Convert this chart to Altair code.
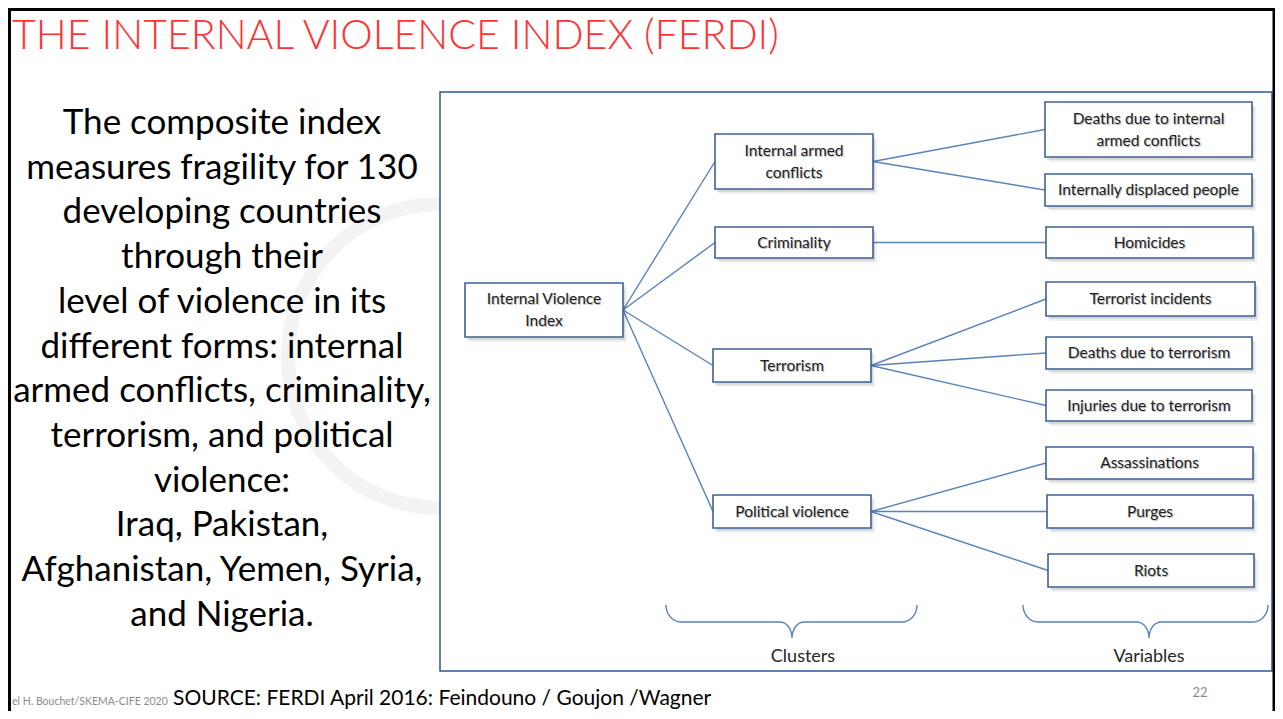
import math
import altair as alt
import pandas as pd

# ---------------- data ----------------
title_text = "THE INTERNAL VIOLENCE INDEX (FERDI)"
body_lines = [
    "The composite index",
    "measures fragility for 130",
    "developing countries",
    "through their",
    "level of violence in its",
    "different forms: internal",
    "armed conflicts, criminality,",
    "terrorism, and political",
    "violence:",
    "Iraq, Pakistan,",
    "Afghanistan, Yemen, Syria,",
    "and Nigeria.",
]
source_text = "SOURCE: FERDI April 2016: Feindouno / Goujon /Wagner"
author_text = "el H. Bouchet/SKEMA-CIFE 2020"
page_number = "22"

node_ids = ["ivi", "iac", "crim", "terr", "pol",
            "v_diac", "v_idp", "v_hom", "v_ti", "v_dt", "v_it",
            "v_ass", "v_pur", "v_riot"]
node_labels = ["Internal  Violence\nIndex", "Internal armed\nconflicts", "Criminality",
               "Terrorism", "Political violence",
               "Deaths due to internal\narmed conflicts", "Internally displaced people",
               "Homicides", "Terrorist incidents", "Deaths due to terrorism",
               "Injuries due to terrorism", "Assassinations", "Purges", "Riots"]
node_left = [465, 715, 715, 713, 713, 1045, 1045, 1046, 1046, 1046, 1046, 1046, 1047, 1048]
node_right = [623, 873, 873, 871, 871, 1252, 1252, 1253, 1255, 1252, 1252, 1253, 1253, 1254]
node_top = [283, 134, 227, 349, 495, 102, 174, 227, 282, 337, 390, 447, 495, 554]
node_bottom = [337, 189, 258, 382, 528, 157, 206, 258, 316, 369, 421, 479, 528, 587]

edge_parent = ["ivi", "ivi", "ivi", "ivi", "iac", "iac", "crim",
               "terr", "terr", "terr", "pol", "pol", "pol"]
edge_child = ["iac", "crim", "terr", "pol", "v_diac", "v_idp", "v_hom",
              "v_ti", "v_dt", "v_it", "v_ass", "v_pur", "v_riot"]

brace_labels = ["Clusters", "Variables"]
brace_left = [666, 1023]
brace_right = [917, 1268]
brace_tip = [792, 1149]
brace_label_x = [803, 1149]

# ---------------- layout helpers ----------------
W, H = 1267, 703
X0, Y0 = 8, 8
xs = alt.Scale(domain=[X0, X0 + W], nice=False, zero=False)
ys = alt.Scale(domain=[Y0 + H, Y0], nice=False, zero=False)


def X(f="x"):
    return alt.X(f"{f}:Q", scale=xs, axis=None)


def Y(f="y"):
    return alt.Y(f"{f}:Q", scale=ys, axis=None)


FONT = "Lato"
BOX_STROKE = "#3F6094"
LINE_COLOR = "#5A82B8"
LH = 22

nodes = pd.DataFrame({
    "id": node_ids, "label": node_labels,
    "x": node_left, "x2": node_right, "y": node_top, "y2": node_bottom,
})
nodes["cx"] = (nodes["x"] + nodes["x2"]) / 2
nodes["cy"] = (nodes["y"] + nodes["y2"]) / 2
nodes["nl"] = nodes["label"].str.count("\n")
nodes["ty"] = nodes["cy"] - nodes["nl"] * LH / 2
idx = nodes.set_index("id")

edges = pd.DataFrame({
    "x": [idx.loc[p, "x2"] for p in edge_parent],
    "y": [idx.loc[p, "cy"] for p in edge_parent],
    "x2": [idx.loc[c, "x"] for c in edge_child],
    "y2": [idx.loc[c, "cy"] for c in edge_child],
})

# ---------------- layers ----------------
# faint watermark ring behind the left text
wm = alt.Chart(pd.DataFrame({"x": [440], "y": [356]})).mark_point(
    shape="circle", filled=False, size=304 * 304, color="#F3F3F3",
    strokeWidth=14, opacity=1
).encode(x=X(), y=Y())

frame = alt.Chart(pd.DataFrame({"x": [440], "x2": [1272], "y": [92], "y2": [671]})).mark_rect(
    fill="white", stroke="#2E5596", strokeWidth=1.5
).encode(x=X(), x2="x2:Q", y=Y(), y2="y2:Q")

edge_layer = alt.Chart(edges).mark_rule(color=LINE_COLOR, strokeWidth=1.4).encode(
    x=X(), x2="x2:Q", y=Y(), y2="y2:Q")

sh = nodes.copy()
sh1 = sh.assign(x=sh.x + 2, x2=sh.x2 + 2, y=sh.y + 3, y2=sh.y2 + 3)
sh2 = sh.assign(x=sh.x + 4, x2=sh.x2 + 4, y=sh.y + 5, y2=sh.y2 + 5)
shadow1 = alt.Chart(sh2).mark_rect(fill="#000000", opacity=0.06).encode(
    x=X(), x2="x2:Q", y=Y(), y2="y2:Q")
shadow2 = alt.Chart(sh1).mark_rect(fill="#000000", opacity=0.10).encode(
    x=X(), x2="x2:Q", y=Y(), y2="y2:Q")

boxes = alt.Chart(nodes).mark_rect(fill="white", stroke=BOX_STROKE, strokeWidth=1.6).encode(
    x=X(), x2="x2:Q", y=Y(), y2="y2:Q")

label_shadow = alt.Chart(nodes).mark_text(
    font=FONT, fontSize=15.5, color="#9A9A9A", opacity=0.6, lineBreak="\n", lineHeight=LH,
    baseline="middle", align="center", dx=1, dy=1.2
).encode(x=X("cx"), y=Y("ty"), text="label:N")
labels = alt.Chart(nodes).mark_text(
    font=FONT, fontSize=15.5, color="#1E1E1E", lineBreak="\n", lineHeight=LH,
    baseline="middle", align="center"
).encode(x=X("cx"), y=Y("ty"), text="label:N")

# braces
TOP, MID, TIPY = 605, 622, 638
RX, RT = 15, 12
rows = []
for b, (x0, x1, xt) in enumerate(zip(brace_left, brace_right, brace_tip)):
    pts = []
    n = 10
    for k in range(n + 1):
        t = k / n * math.pi / 2
        pts.append((x0 + RX - RX * math.cos(t), TOP + (MID - TOP) * math.sin(t)))
    for k in range(n + 1):
        t = k / n * math.pi / 2
        pts.append((xt - RT + RT * math.sin(t), TIPY - (TIPY - MID) * math.cos(t)))
    for k in range(n + 1):
        t = k / n * math.pi / 2
        pts.append((xt + RT - RT * math.cos(t), TIPY - (TIPY - MID) * math.sin(t)))
    for k in range(n + 1):
        t = k / n * math.pi / 2
        pts.append((x1 - RX + RX * math.sin(t), TOP + (MID - TOP) * math.cos(t)))
    for i, (px, py) in enumerate(pts):
        rows.append({"brace": brace_labels[b], "i": i, "x": px, "y": py})
brace_df = pd.DataFrame(rows)
braces = alt.Chart(brace_df).mark_line(color=LINE_COLOR, strokeWidth=1.4).encode(
    x=X(), y=Y(), detail="brace:N", order="i:Q")

brace_text = alt.Chart(pd.DataFrame({"x": brace_label_x, "y": [657, 657], "t": brace_labels})).mark_text(
    font=FONT, fontSize=18, color="#262626", baseline="middle", align="center"
).encode(x=X(), y=Y(), text="t:N")

# slide texts
title = alt.Chart(pd.DataFrame({"x": [12], "y": [49], "t": [title_text]})).mark_text(
    font=FONT, fontSize=41, fontWeight=300, color="#FF3333", align="left", baseline="alphabetic"
).encode(x=X(), y=Y(), text="t:N")

body_df = pd.DataFrame({"t": body_lines, "i": range(len(body_lines))})
body_df["x"] = 222
body_df["y"] = 134 + body_df["i"] * 44.7
body = alt.Chart(body_df).mark_text(
    font=FONT, fontSize=35, color="#000000", align="center", baseline="alphabetic"
).encode(x=X(), y=Y(), text="t:N")

author = alt.Chart(pd.DataFrame({"x": [12], "y": [705], "t": [author_text]})).mark_text(
    font=FONT, fontSize=10.5, color="#8C8C8C", align="left", baseline="alphabetic"
).encode(x=X(), y=Y(), text="t:N")
source = alt.Chart(pd.DataFrame({"x": [173], "y": [705], "t": [source_text]})).mark_text(
    font=FONT, fontSize=21, color="#000000", align="left", baseline="alphabetic"
).encode(x=X(), y=Y(), text="t:N")
page = alt.Chart(pd.DataFrame({"x": [1200], "y": [697], "t": [page_number]})).mark_text(
    font=FONT, fontSize=13, color="#8C8C8C", align="center", baseline="alphabetic"
).encode(x=X(), y=Y(), text="t:N")

# slide border (black)
border_df = pd.DataFrame({"x": [8, 9.5, 1274], "x2": [1275, 9.5, 1274], "y": [9.5, 8, 8], "y2": [9.5, 711, 711]})
border = alt.Chart(border_df).mark_rule(color="#000000", strokeWidth=3).encode(
    x=X(), x2="x2:Q", y=Y(), y2="y2:Q")

chart = alt.layer(
    wm, body, frame, edge_layer, braces, shadow1, shadow2, boxes, label_shadow, labels,
    brace_text, title, author, source, page, border
).properties(
    width=W, height=H, padding=0, autosize=alt.AutoSizeParams(type="none")
).configure_view(stroke=None, fill="white").configure(background="white")

chart.save("out.html", embed_options={"renderer": "svg", "actions": False})
